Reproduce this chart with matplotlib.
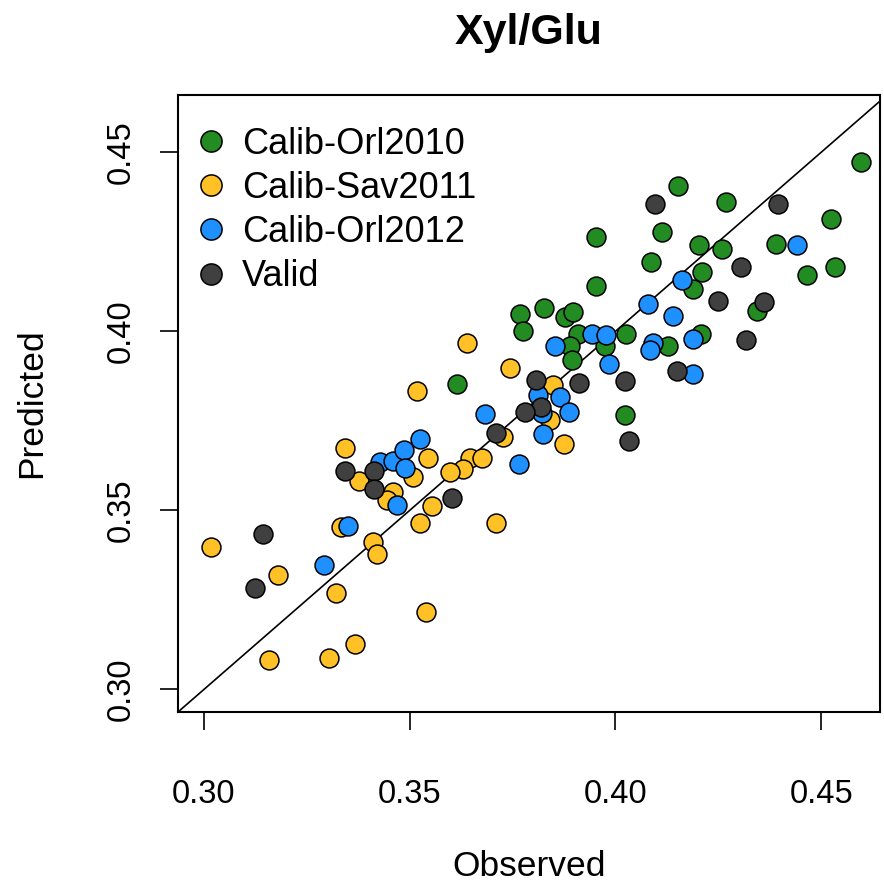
import matplotlib
matplotlib.use("Agg")
import matplotlib.pyplot as plt

plt.rcParams['font.family'] = ['Liberation Sans', 'DejaVu Sans']

# Calib-Orl2010
orl10_obs = [0.4596, 0.4152, 0.4268, 0.4525, 0.3953, 0.4114, 0.4391, 0.4202, 0.4259, 0.4086,
             0.4533, 0.4466, 0.4210, 0.4188, 0.3954, 0.3826, 0.3878, 0.3898, 0.3769, 0.3775,
             0.4344, 0.3909, 0.4025, 0.4209, 0.4128, 0.3890, 0.3975, 0.3894, 0.3615, 0.4024]
orl10_pred = [0.4474, 0.4407, 0.4361, 0.4315, 0.4263, 0.4278, 0.4244, 0.4241, 0.4230, 0.4193,
              0.4180, 0.4158, 0.4166, 0.4118, 0.4127, 0.4065, 0.4041, 0.4055, 0.4048, 0.4002,
              0.4057, 0.3992, 0.3992, 0.3992, 0.3958, 0.3958, 0.3958, 0.3920, 0.3853, 0.3765]

# Calib-Sav2011
sav11_obs = [0.3640, 0.3745, 0.3517, 0.3849, 0.3841, 0.3728, 0.3875, 0.3647, 0.3675, 0.3630,
             0.3597, 0.3545, 0.3509, 0.3460, 0.3444, 0.3555, 0.3525, 0.3711, 0.3343, 0.3376,
             0.3332, 0.3411, 0.3421, 0.3016, 0.3180, 0.3322, 0.3539, 0.3366, 0.3157, 0.3303]
sav11_pred = [0.3968, 0.3897, 0.3833, 0.3849, 0.3753, 0.3704, 0.3686, 0.3645, 0.3645, 0.3616,
              0.3608, 0.3645, 0.3592, 0.3550, 0.3529, 0.3513, 0.3466, 0.3464, 0.3675, 0.3581,
              0.3453, 0.3411, 0.3378, 0.3397, 0.3320, 0.3268, 0.3217, 0.3128, 0.3082, 0.3089]

# Calib-Orl2012
orl12_obs = [0.4441, 0.4162, 0.4079, 0.4141, 0.3853, 0.3943, 0.3977, 0.4091, 0.4084, 0.4188,
             0.3984, 0.4189, 0.3813, 0.3865, 0.3821, 0.3888, 0.3825, 0.3766, 0.3682, 0.3428,
             0.3460, 0.3486, 0.3525, 0.3489, 0.3469, 0.3350, 0.3291]
orl12_pred = [0.4242, 0.4142, 0.4076, 0.4043, 0.3958, 0.3992, 0.3990, 0.3967, 0.3947, 0.3978,
              0.3910, 0.3880, 0.3823, 0.3818, 0.3772, 0.3776, 0.3714, 0.3630, 0.3769, 0.3635,
              0.3638, 0.3668, 0.3698, 0.3619, 0.3515, 0.3457, 0.3348]

# Valid
valid_obs = [0.4097, 0.4394, 0.4305, 0.4249, 0.4360, 0.4317, 0.4149, 0.4024, 0.3912, 0.3806,
             0.3818, 0.3780, 0.3709, 0.4032, 0.3604, 0.3343, 0.3414, 0.3414, 0.3144, 0.3123]
valid_pred = [0.4356, 0.4355, 0.4179, 0.4084, 0.4082, 0.3975, 0.3889, 0.3862, 0.3857, 0.3865,
              0.3790, 0.3776, 0.3715, 0.3694, 0.3536, 0.3610, 0.3610, 0.3560, 0.3434, 0.3284]

groups = [
    ("Calib-Orl2010", orl10_obs, orl10_pred, "#228B22"),
    ("Calib-Sav2011", sav11_obs, sav11_pred, "#FFC125"),
    ("Calib-Orl2012", orl12_obs, orl12_pred, "#1E90FF"),
    ("Valid", valid_obs, valid_pred, "#404040"),
]
ticks = [0.30, 0.35, 0.40, 0.45]

fig = plt.figure(figsize=(8.84, 8.93), dpi=100)
ax = fig.add_axes([178/884, (893-712)/893, (880-178)/884, (712-95)/893])

ax.axline((0.3, 0.3), slope=1, color="black", lw=1.2, zorder=1)
for name, obs, pred, col in groups:
    ax.scatter(obs, pred, s=185, c=col, edgecolors="black", linewidths=1.1,
               label=name, zorder=2)

ax.set_xlim(0.2937, 0.4643)
ax.set_ylim(0.2937, 0.4660)
ax.set_xticks(ticks)
ax.set_yticks(ticks)
ax.set_xticklabels([f"{t:.2f}" for t in ticks])
ax.set_yticklabels([f"{t:.2f}" for t in ticks], rotation=90, va="center")
ax.tick_params(axis="both", length=13, width=1.2, labelsize=23.5)
ax.tick_params(axis="x", pad=35)
ax.tick_params(axis="y", pad=17)
for sp in ax.spines.values():
    sp.set_linewidth(1.5)

ax.set_xlabel("Observed", fontsize=25.5)
ax.set_ylabel("Predicted", fontsize=25.5)
ax.xaxis.set_label_coords(0.5, -0.251)
ax.yaxis.set_label_coords(-0.208, 0.5)
ax.xaxis.label.set_va("center")
ax.yaxis.label.set_va("center")

fig.text(529/884, 1 - 33/893, "Xyl/Glu", ha="center", va="center",
         fontsize=31, fontweight="bold")

ax.legend(loc="upper left", bbox_to_anchor=(0.026, 0.9488), frameon=False,
          fontsize=26, handlelength=0.8, handletextpad=0.46, labelspacing=0.255,
          borderaxespad=0, borderpad=0, markerscale=1.12, scatteryoffsets=[0.5])

plt.savefig("out.png", dpi=100)
